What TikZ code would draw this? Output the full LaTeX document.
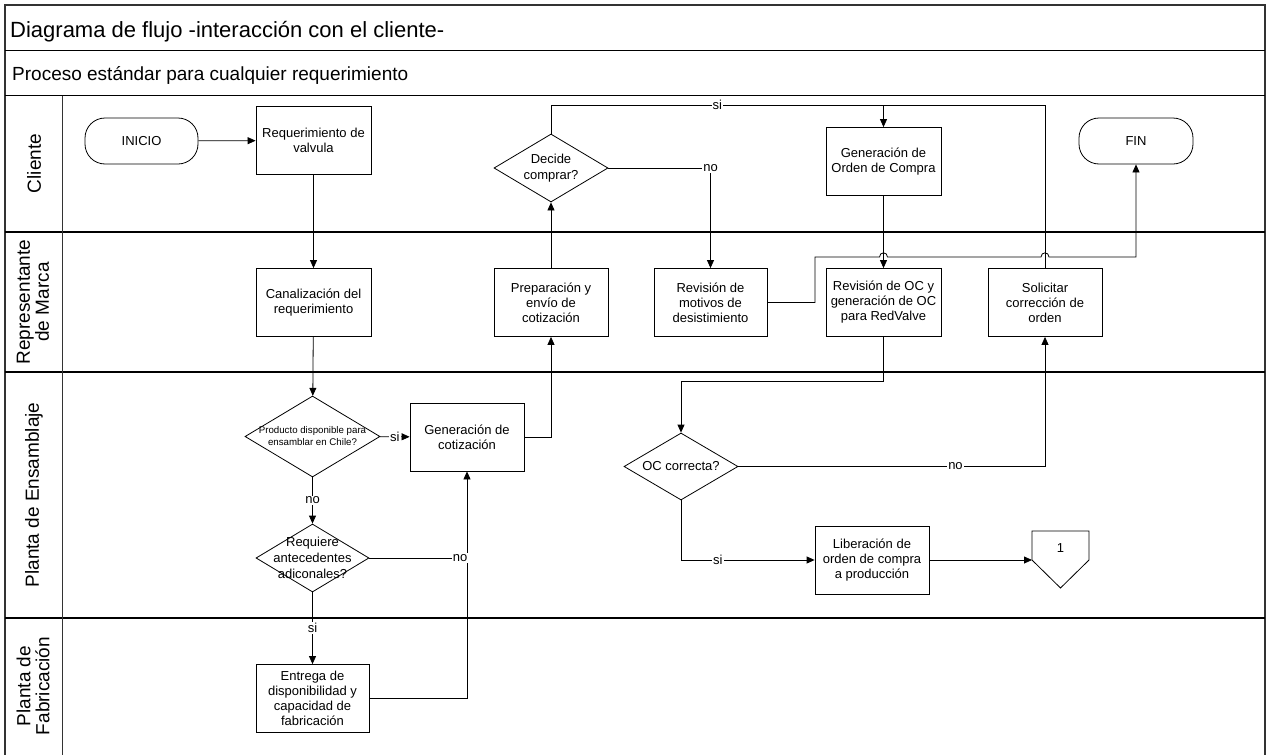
\documentclass[tikz,border=0pt]{standalone}
\usepackage{fontspec}
\setmainfont{Liberation Sans}
\usetikzlibrary{arrows.meta,shapes.geometric,calc}

\begin{document}
\begin{tikzpicture}[x=1pt,y=-1pt,
  frame/.style={line width=1.4pt,draw=black!80},
  lane/.style={line width=1.2pt,draw=black},
  box/.style={draw,line width=0.8pt,minimum width=115pt,minimum height=68pt,
    inner sep=2pt,align=center,font=\fontsize{13}{15}\selectfont},
  term/.style={draw,line width=0.8pt,rounded corners=20pt,minimum width=113pt,
    minimum height=46pt,font=\fontsize{13}{15}\selectfont},
  dec/.style={draw,diamond,line width=0.8pt,inner sep=0pt},
  dtxt/.style={align=center,inner sep=0pt,font=\fontsize{13}{16}\selectfont},
  con/.style={line width=0.8pt},
  arr/.style={con,-{Triangle[length=8pt,width=7pt]}},
  lab/.style={fill=white,inner sep=1pt,font=\fontsize{13}{15}\selectfont},
  lanetxt/.style={rotate=90,align=center,inner sep=0pt,font=\fontsize{19}{19}\selectfont}]
\useasboundingbox (0,0) rectangle (1267,755);

% ---- frame, header rows and swimlanes
\draw[frame] (5,755) -- (5,5) -- (1265,5) -- (1265,755);
\draw[lane] (5,50.5) -- (1265,50.5);
\draw[lane] (5,95.5) -- (1265,95.5);
\draw[lane] (5,232) -- (1265,232);
\draw[lane] (5,372) -- (1265,372);
\draw[lane] (5,618) -- (1265,618);
\draw[frame,line width=1pt] (62,95.5) -- (62,755);

\node[anchor=base west,inner sep=0pt,font=\fontsize{22}{24}\selectfont] (title) at (10,37)
  {Diagrama de flujo -interacción con el cliente-};
\node[anchor=base west,inner sep=0pt,font=\fontsize{19}{21}\selectfont] (subtitle) at (12,80)
  {Proceso estándar para cualquier requerimiento};

\node[lanetxt] (lane1) at (34,163.5) {Cliente};
\node[lanetxt] (lane2) at (33,302) {Representante\\de Marca};
\node[lanetxt] (lane3) at (34,495) {Planta de Ensamblaje};
\node[lanetxt] (lane4) at (33,686) {Planta de\\Fabricación};

% ---- process steps
\node[term] (inicio) at (141.5,141) {INICIO};
\node[box] (req) at (313.5,140.5) {Requerimiento de\\valvula};
\node[box] (canal) at (313.5,302.5) {Canalización del\\requerimiento};
\node[dec,minimum width=135pt,minimum height=81pt] (prod) at (312.5,436.5) {};
\node[dtxt,font=\fontsize{9.7}{12}\selectfont] (prodt) at (prod) {Producto disponible para\\ensamblar en Chile?};
\node[box,minimum width=114pt] (gencot) at (467,437) {Generación de\\cotización};
\node[dec,minimum width=113pt,minimum height=68pt] (reqa) at (312.5,558) {};
\node[dtxt] (reqat) at (reqa) {Requiere\\antecedentes\\adiconales?};
\node[box,minimum width=113pt] (entrega) at (312.5,698.5) {Entrega de\\disponibilidad y\\capacidad de\\fabricación};
\node[box,minimum width=114pt] (prep) at (551,302.5) {Preparación y\\envío de\\cotización};
\node[dec,minimum width=114pt,minimum height=68pt] (decide) at (551,168) {};
\node[dtxt] (decidet) at (decide) {Decide\\comprar?};
\node[box,minimum width=113pt] (motivos) at (710.5,302.5) {Revisión de\\motivos de\\desistimiento};
\node[box] (genoc) at (883.5,161.5) {Generación de\\Orden de Compra};
\node[box] (revoc) at (883.5,302.5) {Revisión de OC y\\generación de OC\\para RedValve};
\node[box,minimum width=114pt] (solic) at (1045,302.5) {Solicitar\\corrección de\\orden};
\node[term,minimum width=114pt] (fin) at (1136,141) {FIN};
\node[dec,minimum width=114pt,minimum height=67pt] (occ) at (681,466.5) {};
\node[dtxt] (occt) at (occ) {OC correcta?};
\node[box,minimum width=114pt] (lib) at (872,560) {Liberación de\\orden de compra\\a producción};

% off-page connector
\draw[con] (1032,531) -- (1089,531) -- (1089,560) -- (1060.5,588) -- (1032,560) -- cycle;
\coordinate (offw) at (1032,560);
\node[font=\fontsize{13}{15}\selectfont] (offt) at (1060.5,548) {1};

% ---- connectors
\coordinate (topy) at (0,105);
\coordinate (ocy) at (0,381);
\coordinate (bend) at (815,257);

\draw[arr] (inicio) -- (req);
\draw[arr] (req) -- (canal);
\draw[arr] (canal) -- (prod);
\draw[arr] (prod) -- node[lab]{si} (gencot);
\draw[arr] (prod) -- node[lab]{no} (reqa);
\draw[arr] (reqa) -- node[lab]{si} (entrega);
\draw[arr] (entrega.east) -| (gencot.south);
\draw[con] (reqa.east) -- node[lab,pos=0.93]{no} (reqa.east -| gencot.south);
\draw[arr] (gencot.east) -| (prep.south);
\draw[arr] (prep) -- (decide);
\draw[arr] (decide.north) -- (decide.north |- topy) -- node[lab]{si} (genoc.north |- topy) -- (genoc.north);
\draw[con] (solic.north) |- (genoc.north |- topy);
\draw[arr] (decide.east) -| node[lab,pos=0.5]{no} (motivos.north);
\draw[arr] (genoc) -- (revoc);
\draw[arr] (motivos.east) -| (bend)
  -- ($(bend -| revoc)+(-4,0)$) .. controls +(0,-5.5) and +(0,-5.5) .. ($(bend -| revoc)+(4,0)$)
  -- ($(bend -| solic)+(-4,0)$) .. controls +(0,-5.5) and +(0,-5.5) .. ($(bend -| solic)+(4,0)$)
  -| (fin.south);
\draw[arr] (revoc.south) -- (revoc.south |- ocy) -| (occ.north);
\draw[arr] (occ.east) -| node[lab,pos=0.354]{no} (solic.south);
\draw[arr] (occ.south) |- node[lab,pos=0.638]{si} (lib.west);
\draw[arr] (lib.east) -- (offw);
\end{tikzpicture}
\end{document}
